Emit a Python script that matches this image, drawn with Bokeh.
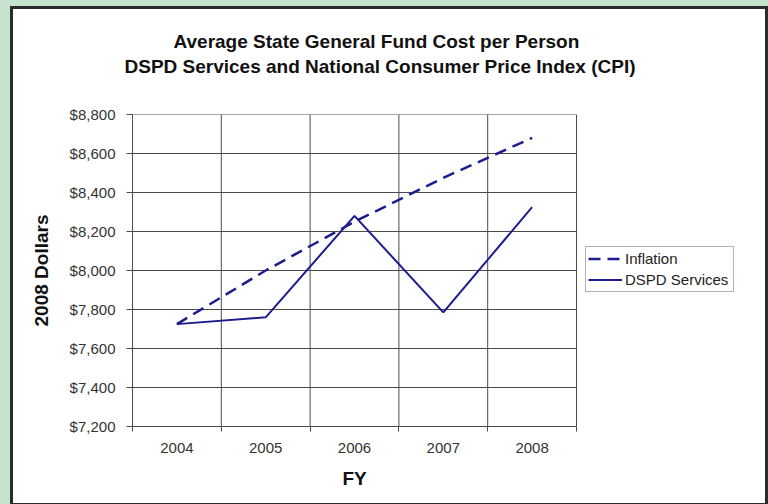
from bokeh.plotting import figure
from bokeh.models import (FixedTicker, NumeralTickFormatter, Legend, LegendItem,
                          Title, Range1d)
from bokeh.embed import file_html
from bokeh.resources import INLINE

# ---- data ----
years = ["2004", "2005", "2006", "2007", "2008"]
inflation = [7725, 8000, 8250, 8475, 8680]
dspd = [7725, 7760, 8280, 7785, 8325]
y_ticks = [7200, 7400, 7600, 7800, 8000, 8200, 8400, 8600, 8800]

title1 = "Average State General Fund Cost per Person"
title2 = "DSPD Services and National Consumer Price Index (CPI)"
x_title = "FY"
y_title = "2008 Dollars"

FONT = "Liberation Sans"
LINE = "#1c1c8e"
GRID = "#4a4a4a"

# ---- layout (pixels) ----
W, H = 758, 500
BORDER_L, BORDER_R = 119, 23      # frame spans past the plot area to host the legend
PLOT_W = 444                      # width of the gridded plot area
FRAME_W = W - BORDER_L - BORDER_R

n = len(years)
xc = [i + 0.5 for i in range(n)]
x_end = n * FRAME_W / PLOT_W

p = figure(width=W, height=H, output_backend="svg", toolbar_location=None,
           x_range=Range1d(0, x_end), y_range=Range1d(y_ticks[0], y_ticks[-1]),
           min_border_left=BORDER_L, min_border_right=BORDER_R, min_border_top=105,
           min_border_bottom=83,
           background_fill_color="white", border_fill_color="white",
           outline_line_color=None)
p.styles = {"border": "3px solid #2b2b2b", "margin": "6px 0px 0px 10px",
            "background-color": "white"}
p.grid.visible = False

# titles (first added is nearest to the frame)
t2 = Title(text=title2, align="left", offset=-8, text_font=FONT,
           text_font_size="19px", text_font_style="bold", text_color="#111111",
           standoff=76)
t1 = Title(text=title1, align="left", offset=41, text_font=FONT,
           text_font_size="19px", text_font_style="bold", text_color="#111111",
           standoff=-72)
p.add_layout(t2, "above")
p.add_layout(t1, "above")

# grid lines: category boundaries and value ticks
bounds = list(range(n + 1))
p.segment(x0=bounds, x1=bounds, y0=[y_ticks[0]] * len(bounds), y1=[y_ticks[-1]] * len(bounds),
          line_color=GRID, line_width=1)
p.segment(x0=[0] * len(y_ticks), x1=[n] * len(y_ticks), y0=y_ticks, y1=y_ticks,
          line_color=GRID, line_width=1)

# x axis: labels at centres, tick marks at boundaries (minor)
p.xaxis.bounds = (0, n)
p.xaxis.ticker = FixedTicker(ticks=xc, minor_ticks=bounds)
p.xaxis.major_label_overrides = {x: y for x, y in zip(xc, years)}
p.xaxis.major_tick_out = 0
p.xaxis.major_tick_in = 0
p.xaxis.minor_tick_out = 5
p.xaxis.minor_tick_in = 0
p.xaxis.minor_tick_line_color = GRID
p.xaxis.axis_line_color = GRID
p.xaxis.major_label_standoff = 11
p.xaxis.major_label_text_font = FONT
p.xaxis.major_label_text_font_size = "15px"
p.xaxis.major_label_text_color = "#333333"

# x-axis title centred under the gridded area (the frame extends right for the legend)
tx = Title(text=x_title, align="left", offset=210, text_font=FONT,
           text_font_size="19px", text_font_style="bold", text_color="#111111",
           standoff=20)
p.add_layout(tx, "below")

p.yaxis.ticker = FixedTicker(ticks=y_ticks, minor_ticks=[])
p.yaxis.formatter = NumeralTickFormatter(format="$0,0")
p.yaxis.major_tick_out = 6
p.yaxis.major_tick_in = 0
p.yaxis.major_tick_line_color = GRID
p.yaxis.axis_line_color = GRID
p.yaxis.major_label_standoff = 11
p.yaxis.major_label_text_font = FONT
p.yaxis.major_label_text_font_size = "15px"
p.yaxis.major_label_text_color = "#333333"
p.yaxis.axis_label = y_title
p.yaxis.axis_label_text_font = FONT
p.yaxis.axis_label_text_font_size = "19px"
p.yaxis.axis_label_text_font_style = "bold"
p.yaxis.axis_label_text_color = "#111111"
p.yaxis.axis_label_standoff = 15

r_inf = p.line(xc, inflation, line_color=LINE, line_width=2.5, line_dash="12 7")
r_dspd = p.line(xc, dspd, line_color=LINE, line_width=2)

legend = Legend(items=[LegendItem(label="Inflation", renderers=[r_inf]),
                       LegendItem(label="DSPD Services", renderers=[r_dspd])],
                location=(453, 134), orientation="vertical",
                label_text_font=FONT, label_text_font_size="15px",
                label_text_color="#222222",
                glyph_width=34, glyph_height=19, label_height=19, label_width=106,
                label_standoff=3, spacing=2, padding=2, margin=0,
                border_line_color="#666666", border_line_width=1,
                background_fill_color="white", background_fill_alpha=1)
p.add_layout(legend)

html = file_html(p, INLINE)
html = html.replace("</head>",
                    "<style>html, body { background: #c6e3d0 !important; overflow: hidden; }</style>\n</head>", 1)
open("out.html", "w").write(html)
